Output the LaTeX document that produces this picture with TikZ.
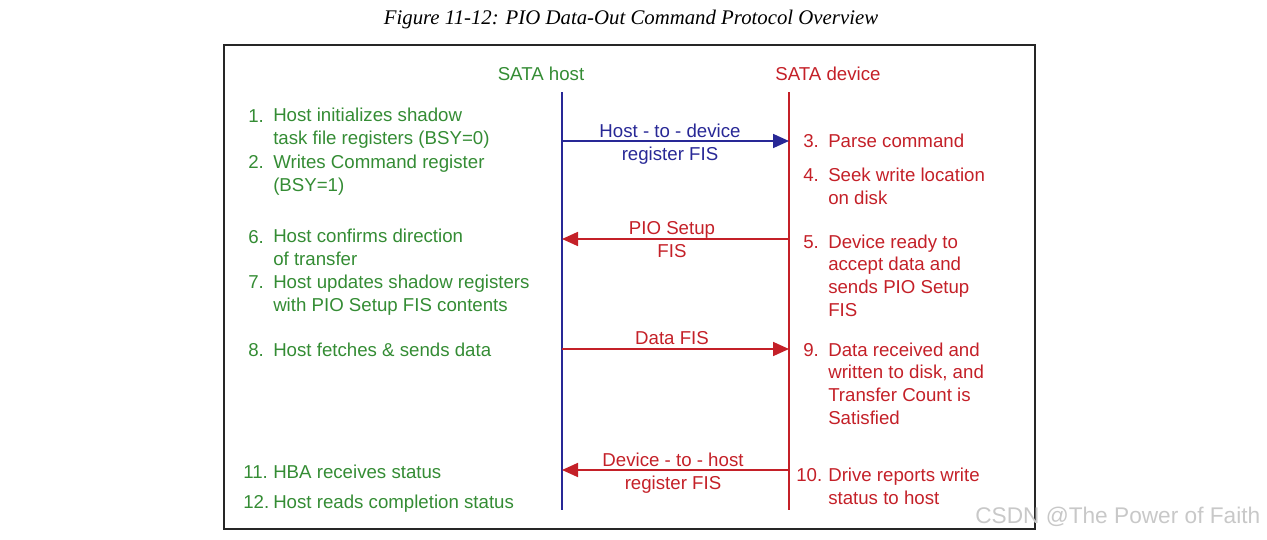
\documentclass[tikz,border=0pt]{standalone}
\usepackage{fontspec}
\setmainfont{Liberation Sans}
\newfontfamily\titlefont{Liberation Serif}
\usetikzlibrary{arrows.meta}
\definecolor{hostgreen}{RGB}{52,140,52}
\definecolor{devred}{RGB}{196,32,40}
\definecolor{hostblue}{RGB}{40,40,150}
\definecolor{wmgray}{RGB}{200,200,200}
\tikzset{
  txt/.style={inner sep=0pt, anchor=base west, align=left, font=\fontsize{14}{17}\selectfont},
  gtxt/.style={txt, text=hostgreen},
  rtxt/.style={txt, text=devred},
  lifeline/.style={line width=1.3pt},
  msg/.style={line width=1.3pt, -{Triangle[length=12pt,width=10.5pt]}},
  lbl/.style={inner sep=0pt, font=\fontsize{14}{17}\selectfont, align=center, anchor=base},
}
\begin{document}
\begin{tikzpicture}[x=0.75pt,y=-0.75pt]
\useasboundingbox (0,0) rectangle (1267,539);
\node[inner sep=0pt, font=\titlefont\itshape\fontsize{15.6}{18}\selectfont] (title) at (631,19) {Figure 11-12: PIO Data-Out Command Protocol Overview};
\draw[line width=1.1pt, black!85] (224,45) rectangle (1035,529);
\node[inner sep=0pt, text=hostgreen, font=\fontsize{14}{17}\selectfont] (hosthdr) at (541,74) {SATA host};
\node[inner sep=0pt, text=devred, font=\fontsize{14}{17}\selectfont] (devhdr) at (828,74) {SATA device};
\coordinate (htop) at (562,92); \coordinate (hbot) at (562,510);
\coordinate (dtop) at (789,92); \coordinate (dbot) at (789,510);
\draw[lifeline, hostblue] (htop) -- (hbot);
\draw[lifeline, devred] (dtop) -- (dbot);
% messages
\coordinate (h1) at (562,141); \coordinate (d1) at (789,141);
\coordinate (h2) at (562,239); \coordinate (d2) at (789,239);
\coordinate (h3) at (562,349); \coordinate (d3) at (789,349);
\coordinate (h4) at (562,470); \coordinate (d4) at (789,470);
\draw[msg, hostblue] (h1) -- (d1);
\draw[msg, devred] (d2) -- (h2);
\draw[msg, devred] (h3) -- (d3);
\draw[msg, devred] (d4) -- (h4);
\node[lbl, text=hostblue] (m1) at (670,160) {Host - to - device\\register FIS};
\node[lbl, text=devred] (m2) at (672,257) {PIO Setup\\FIS};
\node[lbl, text=devred] (m3) at (672,344) {Data FIS};
\node[lbl, text=devred] (m4) at (673,489) {Device - to - host\\register FIS};
% host steps (base = last line)
\node[gtxt] (n1) at (248,122) {1.}; \node[gtxt] (s1) at (273,144) {Host initializes shadow\\task file registers (BSY=0)};
\node[gtxt] (n2) at (248,168) {2.}; \node[gtxt] (s2) at (273,191) {Writes Command register\\(BSY=1)};
\node[gtxt] (n6) at (248,243) {6.}; \node[gtxt] (s6) at (273,265) {Host confirms direction\\of transfer};
\node[gtxt] (n7) at (248,288) {7.}; \node[gtxt] (s7) at (273,311) {Host updates shadow registers\\with PIO Setup FIS contents};
\node[gtxt] (n8) at (248,356) {8.}; \node[gtxt] (s8) at (273,356) {Host fetches \& sends data};
\node[gtxt] (n11) at (243,478) {11.}; \node[gtxt] (s11) at (273,478) {HBA receives status};
\node[gtxt] (n12) at (243,508) {12.}; \node[gtxt] (s12) at (273,508) {Host reads completion status};
% device steps
\node[rtxt] (n3) at (803,147) {3.}; \node[rtxt] (s3) at (828,147) {Parse command};
\node[rtxt] (n4) at (803,181) {4.}; \node[rtxt] (s4) at (828,204) {Seek write location\\on disk};
\node[rtxt] (n5) at (803,248) {5.}; \node[rtxt] (s5) at (828,316) {Device ready to\\accept data and\\sends PIO Setup\\FIS};
\node[rtxt] (n9) at (803,356) {9.}; \node[rtxt] (s9) at (828,424) {Data received and\\written to disk, and\\Transfer Count is\\Satisfied};
\node[rtxt] (n10) at (796,481) {10.}; \node[rtxt] (s10) at (828,504) {Drive reports write\\status to host};
% watermark
\node[inner sep=0pt, text=wmgray, font=\fontsize{17}{19}\selectfont, anchor=west] (wm) at (975,517) {CSDN @The Power of Faith};
\end{tikzpicture}
\end{document}
